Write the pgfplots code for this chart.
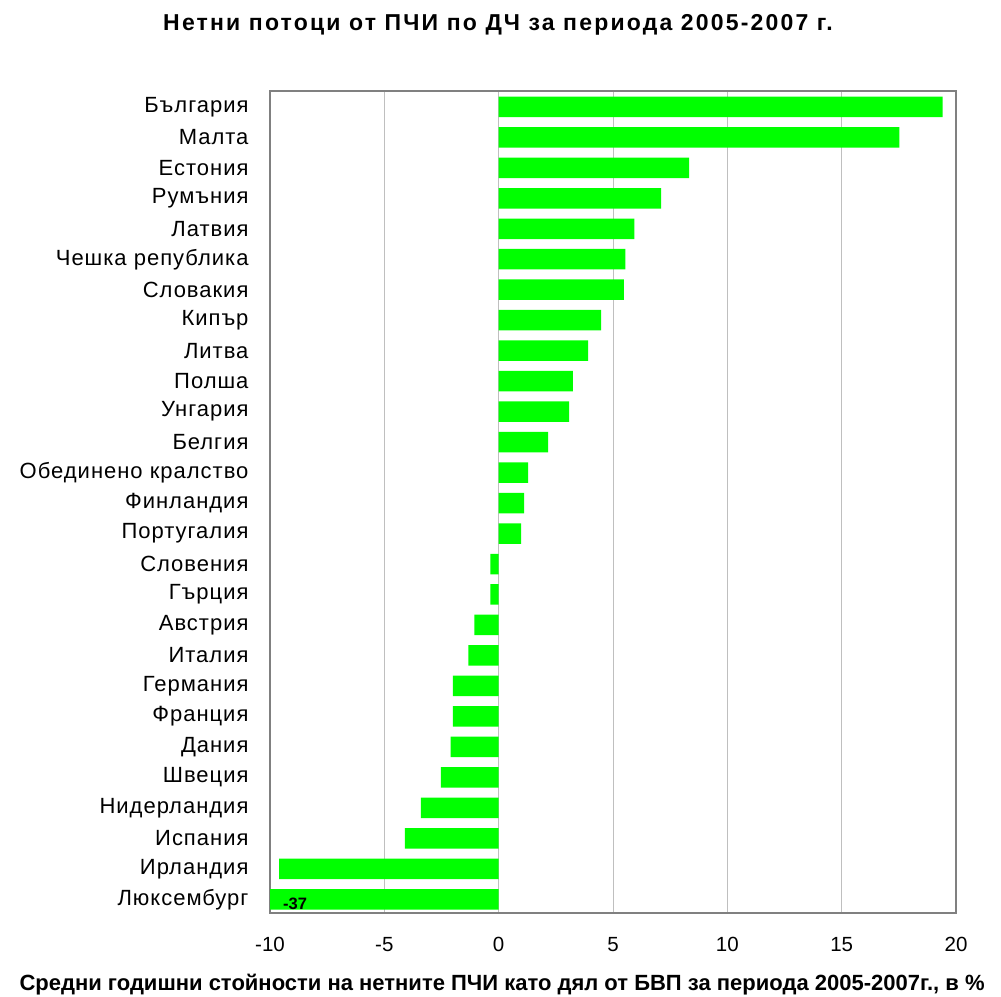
\documentclass[border=0pt]{standalone}
\usepackage{pgfplots}
\pgfplotsset{compat=1.18}
\usepackage{pgfplotstable}
\usepackage{fontspec}
\setmainfont{Liberation Sans}
\pgfplotstableread{
idx val
0 -37
1 -9.6
2 -4.1
3 -3.4
4 -2.53
5 -2.1
6 -2.0
7 -2.0
8 -1.32
9 -1.06
10 -0.36
11 -0.36
12 0.98
13 1.11
14 1.29
15 2.16
16 3.08
17 3.25
18 3.91
19 4.48
20 5.48
21 5.54
22 5.93
23 7.10
24 8.33
25 17.52
26 19.41
}\datatable
\definecolor{bargreen}{RGB}{0,255,0}
\begin{document}
\begin{tikzpicture}
\useasboundingbox (0,0) rectangle (1001pt,996pt);
\node[font=\fontsize{23}{26}\selectfont\bfseries\addfontfeatures{LetterSpace=9.5}] at (498pt,971pt) {Нетни потоци от ПЧИ по ДЧ за периода 2005-2007 г.};
\node[font=\fontsize{22}{25}\selectfont\bfseries] at (502pt,11pt) {Средни годишни стойности на нетните ПЧИ като дял от БВП за периода 2005-2007г., в \%};
\begin{axis}[
  at={(270pt,83pt)}, anchor=south west,
  width=686pt, height=822pt, scale only axis,
  xmin=-10, xmax=20, ymin=-0.45, ymax=26.52,
  xtick={-10,-5,...,20},
  ytick={0,...,26},
  yticklabels={Люксембург,Ирландия,Испания,Нидерландия,Швеция,Дания,Франция,Германия,Италия,Австрия,Гърция,Словения,Португалия,Финландия,Обединено кралство,Белгия,Унгария,Полша,Литва,Кипър,Словакия,Чешка република,Латвия,Румъния,Естония,Малта,България},
  xmajorgrids, ymajorgrids=false,
  grid style={draw=black!25, line width=0.8pt},
  major tick length=0pt,
  axis line style={draw=black!50, line width=1.6pt},
  /pgf/number format/assume math mode=true,
  xticklabel style={font=\fontsize{20.5}{24}\selectfont, yshift=-21pt},
  yticklabel style={font=\fontsize{22}{24}\selectfont\addfontfeatures{LetterSpace=4.5}, xshift=-18pt},
]
\addplot[xbar, bar width=20.5pt, fill=bargreen, draw=none] table[x=val, y=idx] {\datatable};
\node[font=\fontsize{16.5}{18}\selectfont\bfseries] at (axis cs:-8.9,-0.15) {-37};
\end{axis}
\end{tikzpicture}
\end{document}
